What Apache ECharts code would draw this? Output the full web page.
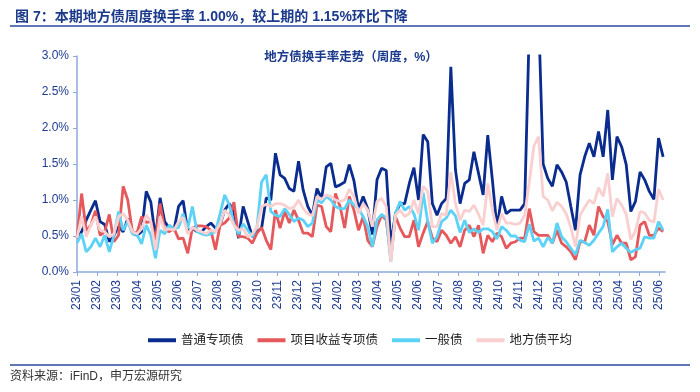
<!DOCTYPE html>
<html>
<head>
<meta charset="utf-8">
<script src="https://cdn.jsdelivr.net/npm/echarts@6/dist/echarts.min.js"></script>
<style>
html,body{margin:0;padding:0;background:#fff;}
#chart{width:700px;height:392px;}
</style>
</head>
<body>
<div id="chart"></div>
<script>
// ---- data (weekly, first week ending 2023-01-06) ----
const firstWeek = '2023-01-06';
const monthLabels = ['23/01','23/02','23/03','23/04','23/05','23/06','23/07','23/08','23/09','23/10','23/11','23/12',
  '24/01','24/02','24/03','24/04','24/05','24/06','24/07','24/08','24/09','24/10','24/11','24/12',
  '25/01','25/02','25/03','25/04','25/05','25/06'];
const seriesNames = ['普通专项债','项目收益专项债','一般债','地方债平均'];

const general = [0.47,0.56,0.72,0.86,0.99,0.70,0.66,0.42,0.51,0.63,0.56,0.74,0.54,0.51,0.56,1.12,0.97,0.47,1.03,0.70,0.61,0.58,0.91,0.99,0.56,0.61,0.56,0.56,0.63,0.68,0.61,0.65,0.86,0.95,0.84,0.47,0.91,0.70,0.49,0.56,0.61,1.03,1.00,
1.65,1.35,1.30,1.16,1.12,1.54,1.14,0.91,0.79,1.16,1.02,1.46,1.51,1.18,1.21,1.25,1.49,1.27,0.87,1.05,0.88,0.52,1.28,1.44,1.41,0.38,
0.81,0.95,0.95,1.23,1.45,1.00,1.91,1.81,0.95,0.79,0.95,1.02,2.85,1.42,0.95,1.23,1.28,1.67,1.37,1.07,1.90,1.28,0.61,1.05,0.81,0.86,0.86,0.86,0.95,
3.4,4.0,3.6,1.5,
1.30,1.19,1.49,1.39,1.25,0.91,0.58,1.35,1.60,1.79,1.60,1.95,1.60,2.25,1.28,1.88,1.74,1.49,0.84,0.98,1.39,1.28,1.12,1.01,1.86,1.60];

const project = [0.47,1.09,0.57,0.65,0.85,0.51,0.56,0.80,0.42,0.51,1.19,1.00,0.56,0.54,0.77,0.69,0.70,0.44,0.95,0.58,0.56,0.61,0.46,0.47,0.26,0.61,0.64,0.64,0.63,0.58,0.31,0.65,0.68,0.75,0.97,0.49,0.49,0.47,0.40,0.54,0.62,0.44,0.31,
0.86,0.61,0.84,0.68,0.86,0.72,0.54,0.54,0.49,0.93,0.91,0.63,0.56,1.09,0.91,0.61,1.05,0.86,0.58,0.77,0.44,0.35,0.63,0.79,0.72,0.21,
0.77,0.61,0.49,0.49,0.72,0.35,0.54,0.70,0.47,0.42,0.58,0.51,0.40,0.49,0.35,0.58,0.65,0.49,0.65,0.26,0.51,0.42,0.54,0.49,0.33,0.40,0.42,0.47,0.47,0.88,0.56,0.51,0.51,
0.51,0.40,0.58,0.40,0.35,0.28,0.17,0.42,0.42,0.65,0.51,0.91,0.77,0.70,0.38,0.51,0.40,0.40,0.17,0.21,0.65,0.70,0.51,0.51,0.61,0.56];

const generalBond = [0.40,0.53,0.28,0.35,0.47,0.35,0.51,0.28,0.51,0.84,0.58,0.70,0.53,0.52,0.39,0.65,0.51,0.19,0.58,0.53,0.65,0.60,0.62,0.81,0.60,0.91,0.56,0.53,0.51,0.53,0.56,0.81,1.07,0.93,0.67,0.53,0.67,0.58,0.49,0.63,1.25,1.35,0.84,
0.79,0.77,0.88,0.80,0.70,0.75,0.72,0.63,0.68,1.00,0.96,1.05,1.00,0.91,0.88,0.88,1.00,0.93,0.88,0.77,0.63,0.35,0.72,0.80,0.75,0.14,
0.81,0.98,0.86,0.91,0.81,0.58,1.10,0.70,0.40,0.49,0.70,0.75,0.86,0.78,0.55,0.72,0.55,0.60,0.55,0.60,0.60,0.56,0.46,0.63,0.58,0.50,0.50,0.44,0.42,0.66,0.43,0.47,0.35,
0.48,0.40,0.68,0.49,0.42,0.33,0.24,0.44,0.41,0.37,0.44,0.54,0.63,0.87,0.28,0.35,0.40,0.33,0.27,0.31,0.33,0.49,0.47,0.47,0.70,0.58];

const average = [0.47,0.77,0.49,0.65,0.77,0.58,0.56,0.49,0.53,0.77,0.81,0.72,0.56,0.53,0.60,0.79,0.70,0.30,0.77,0.58,0.60,0.58,0.70,0.76,0.53,0.62,0.58,0.56,0.53,0.58,0.56,0.67,0.86,0.79,0.65,0.58,0.60,0.49,0.53,0.63,0.91,0.94,0.91,
0.95,0.95,0.93,0.88,0.90,1.00,0.88,0.81,0.78,1.05,1.01,1.07,1.05,1.00,0.98,1.00,1.15,1.05,0.81,0.95,0.86,0.63,0.98,1.02,0.91,0.14,
0.79,0.86,0.77,0.81,1.00,0.81,1.19,1.12,0.63,0.63,0.81,0.79,1.39,0.95,0.72,0.86,0.84,0.93,0.80,0.65,1.23,0.86,0.58,0.81,0.68,0.68,0.66,0.68,0.79,1.25,1.75,1.88,1.05,
1.00,0.85,0.97,0.91,0.81,0.62,0.35,0.79,0.90,1.00,0.95,1.17,1.05,1.37,0.77,1.02,0.93,0.80,0.45,0.57,0.84,0.82,0.72,0.69,1.15,1.00];

// ---- weekly x positions (in months since the first week) ----
const monthLen = 365.25 / 12;
function weekX(i) { return (i * 7) / monthLen; }
function toPairs(arr) { return arr.map((v, i) => [weekX(i), v]); }

const colors = ['#0A2C8E', '#E5585B', '#5CD2F7', '#F9CFCF'];
const FONT = '"Liberation Sans", Arial, "Noto Sans CJK SC", sans-serif';
const BLUE_TEXT = '#1F3C8F';
const AXIS = '#8EA9DC';

const chart = echarts.init(document.getElementById('chart'), null, {renderer: 'canvas'});
const data = [general, project, generalBond, average];

chart.setOption({
  animation: false,
  textStyle: {fontFamily: FONT},
  title: [
    {text: '图 7：本期地方债周度换手率 1.00%，较上期的 1.15%环比下降', left: 10, top: 5,
     textStyle: {fontSize: 14, fontWeight: 'bold', color: '#1B3A8C', fontFamily: FONT}},
    {text: '地方债换手率走势（周度，%）', left: 346, top: 46, textAlign: 'center',
     textStyle: {fontSize: 12.5, fontWeight: 'bold', color: '#1B3A8C', fontFamily: FONT}}
  ],
  graphic: [
    {type: 'line', shape: {x1: 10, y1: 26, x2: 690, y2: 26}, style: {stroke: '#2D4A9C', lineWidth: 1.5}},
    {type: 'line', shape: {x1: 10, y1: 365, x2: 690, y2: 365}, style: {stroke: '#2D4A9C', lineWidth: 1.5}},
    {type: 'text', left: 10, top: 371, style: {text: '资料来源：iFinD，申万宏源研究', fontSize: 12, fill: '#333', fontFamily: FONT}}
  ],
  legend: {
    left: 143, top: 329, itemWidth: 28, itemHeight: 4, itemGap: 14, icon: 'rect',
    textStyle: {fontSize: 12.5, color: '#222', fontFamily: FONT},
    data: seriesNames
  },
  grid: {left: 77, right: 35, top: 56, bottom: 120, containLabel: false},
  xAxis: {
    type: 'value', min: 0, max: 29.3, interval: 1,
    axisLine: {show: true, lineStyle: {color: AXIS, width: 1.5}},
    axisTick: {show: true, length: 4, lineStyle: {color: AXIS}},
    splitLine: {show: false},
    axisLabel: {rotate: 90, fontSize: 12, color: BLUE_TEXT, margin: 8, showMaxLabel: false,
      formatter: v => monthLabels[Math.round(v)] || ''}
  },
  yAxis: {
    type: 'value', min: 0, max: 3, interval: 0.5,
    axisLine: {show: true, lineStyle: {color: AXIS, width: 1.5}},
    axisTick: {show: true, length: 4, lineStyle: {color: AXIS}},
    splitLine: {show: false},
    axisLabel: {fontSize: 12, color: BLUE_TEXT, margin: 8, formatter: v => v.toFixed(1) + '%'}
  },
  series: seriesNames.map((name, k) => ({
    name: name, type: 'line', data: toPairs(data[k]), symbol: 'none', clip: true,
    color: colors[k], lineStyle: {width: 2.8, color: colors[k]}, z: 2 + k
  }))
});
</script>
</body>
</html>
